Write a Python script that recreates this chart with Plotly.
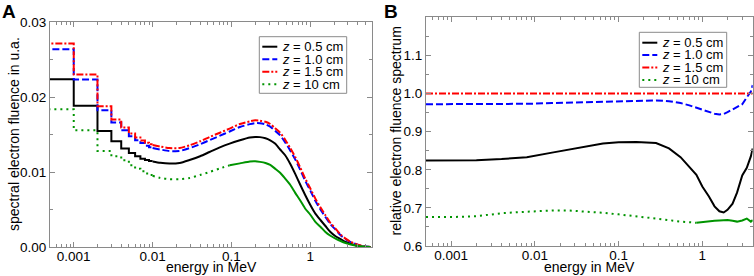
import numpy as np
import plotly.graph_objects as go

# ---------------- Panel A: spectral electron fluence (u.a.) ----------------
# low-energy histogram bins (MeV) and bin values
bin_edges_A = [0.0004, 0.001, 0.002, 0.003, 0.004, 0.005, 0.006, 0.007, 0.008, 0.009, 0.010]
steps_z05 = [0.02236, 0.01885, 0.01547, 0.01409, 0.01312, 0.01253, 0.01209, 0.01178, 0.01160, 0.01148]
steps_z10 = [0.02636, 0.02232, 0.01823, 0.01659, 0.01556, 0.01476, 0.01423, 0.01387, 0.01350, 0.01330]
steps_z15 = [0.02712, 0.02299, 0.01876, 0.01699, 0.01592, 0.01512, 0.01459, 0.01420, 0.01390, 0.01370]
steps_z100 = [0.01836, 0.01556, 0.01280, 0.01209, 0.01156, 0.01089, 0.01045, 0.01010, 0.00980, 0.00960]

# smooth part of the spectra
energy_A = [0.010, 0.0125, 0.0163, 0.022, 0.0294, 0.04, 0.0528, 0.07, 0.0948, 0.128,
            0.171, 0.2, 0.23, 0.27, 0.31, 0.357, 0.414, 0.48, 0.555, 0.643,
            0.745, 0.863, 1.0, 1.158, 1.342, 1.554, 1.8, 2.087, 2.42, 2.8,
            3.24, 3.75, 4.35, 5.0, 5.8]
fluence_z05 = [0.01140, 0.01122, 0.01112, 0.01120, 0.01160, 0.01210, 0.01267, 0.01325, 0.01379, 0.01423,
               0.01459, 0.01467, 0.01465, 0.01450, 0.01423, 0.01379, 0.01300, 0.01223, 0.01110, 0.00975,
               0.00830, 0.00690, 0.00560, 0.00445, 0.00360, 0.00280, 0.00200, 0.00143, 0.00105, 0.00067,
               0.00045, 0.00021, 0.00010, 0.00004, 0.0]
fluence_z10 = [0.0132, 0.0130, 0.0128, 0.0128, 0.01318, 0.0137, 0.01425, 0.0148, 0.0154, 0.0160,
               0.01638, 0.01652, 0.0165, 0.01635, 0.01605, 0.0155, 0.0149, 0.01395, 0.01288, 0.01168,
               0.01028, 0.0088, 0.00752, 0.00615, 0.00502, 0.0040, 0.00303, 0.00232, 0.00157, 0.00106,
               0.00066, 0.0004, 0.00019, 0.00008, 0.0]
fluence_z15 = [0.0136, 0.0134, 0.0132, 0.0132, 0.01356, 0.0141, 0.01467, 0.0152, 0.01579, 0.0164,
               0.01675, 0.01689, 0.01685, 0.0167, 0.0164, 0.01585, 0.01525, 0.0143, 0.0132, 0.0120,
               0.0106, 0.00912, 0.0078, 0.00645, 0.0053, 0.00423, 0.0032, 0.00245, 0.00165, 0.00112,
               0.0007, 0.00042, 0.0002, 0.00008, 0.0]
fluence_z100 = [0.0095, 0.0092, 0.00905, 0.00905, 0.0092, 0.0096, 0.0100, 0.01045, 0.01089, 0.01115,
                0.0114, 0.01143, 0.01135, 0.0112, 0.01095, 0.01045, 0.0099, 0.00912, 0.0083, 0.00722,
                0.0062, 0.0051, 0.0043, 0.00335, 0.0027, 0.0020, 0.0015, 0.00112, 0.0008, 0.00053,
                0.00033, 0.0002, 0.0001, 0.00004, 0.0]

# ---------------- Panel B: relative electron fluence spectrum ----------------
energy_B = [0.0005, 0.001, 0.002, 0.004, 0.008, 0.016, 0.026, 0.04, 0.065, 0.1,
            0.163, 0.28, 0.4, 0.55, 0.7, 0.85, 1.0, 1.2, 1.4, 1.6,
            1.8, 2.0, 2.3, 2.6, 3.0, 3.4, 3.8, 4.0]
ratio_z05 = [0.824, 0.824, 0.825, 0.828, 0.833, 0.845, 0.853, 0.861, 0.869, 0.872,
             0.873, 0.870, 0.856, 0.833, 0.808, 0.787, 0.756, 0.730, 0.704, 0.691,
             0.688, 0.695, 0.711, 0.740, 0.785, 0.805, 0.835, 0.856]
ratio_z10 = [0.972, 0.972, 0.972, 0.972, 0.973, 0.975, 0.976, 0.977, 0.978, 0.979,
             0.981, 0.982, 0.980, 0.975, 0.969, 0.963, 0.958, 0.952, 0.947, 0.945,
             0.946, 0.951, 0.958, 0.966, 0.972, 0.990, 1.005, 1.022]
energy_B_ref = [0.0005, 4.0]
ratio_z15 = [1.0, 1.0]
ratio_z100 = [0.676, 0.676, 0.678, 0.686, 0.690, 0.693, 0.693, 0.691, 0.687, 0.683,
              0.678, 0.673, 0.668, 0.664, 0.662, 0.661, 0.662, 0.665, 0.666, 0.667,
              0.668, 0.668, 0.666, 0.664, 0.667, 0.672, 0.664, 0.668]

legend_labels = ["<i>z</i> = 0.5 cm", "<i>z</i> = 1.0 cm", "<i>z</i> = 1.5 cm", "<i>z</i> = 10 cm"]
x_tickvals = [0.001, 0.01, 0.1, 1]
x_ticktext = ["0.001", "0.01", "0.1", "1"]

# ---------------- styling ----------------
W, H = 754, 276
FONT = "Liberation Sans, Arial, Helvetica, sans-serif"
AXC = "#8a8a8a"
styles = [
    dict(color="#000000", dash="solid"),
    dict(color="#0000ff", dash="7px,3px"),
    dict(color="#ff0000", dash="7px,2px,2px,2px"),
    dict(color="#009400", dash="2px,4px"),
]
LW = 2
# the dense (noisy) 10 cm curve looks solid above these energies
GREEN_SOLID_FROM_A = 0.0948
GREEN_SOLID_FROM_B = 0.85


def step_path(edges, vals):
    xs, ys = [], []
    for i, v in enumerate(vals):
        xs += [edges[i], edges[i + 1]]
        ys += [v, v]
    return xs, ys


def split_at(xs, ys, xsplit):
    lo = [(x, y) for x, y in zip(xs, ys) if x <= xsplit]
    hi = [(x, y) for x, y in zip(xs, ys) if x >= xsplit]
    return list(zip(*lo)), list(zip(*hi))


fig = go.Figure()
steps = [steps_z05, steps_z10, steps_z15, steps_z100]
smooth = [fluence_z05, fluence_z10, fluence_z15, fluence_z100]
for k, (st, sm, sty, name) in enumerate(zip(steps, smooth, styles, legend_labels)):
    sx, sy = step_path(bin_edges_A, st)
    fig.add_trace(go.Scatter(x=sx, y=sy, mode="lines", line=dict(width=LW, **sty),
                             showlegend=False, name=name, xaxis="x", yaxis="y"))
    if k == 3:
        (lx, ly), (hx, hy) = split_at(energy_A, sm, GREEN_SOLID_FROM_A)
        fig.add_trace(go.Scatter(x=lx, y=ly, mode="lines",
                                 line=dict(width=LW, shape="spline", smoothing=0.6, **sty),
                                 showlegend=False, name=name, xaxis="x", yaxis="y"))
        fig.add_trace(go.Scatter(x=hx, y=hy, mode="lines",
                                 line=dict(width=LW, shape="spline", smoothing=0.6, color=sty["color"]),
                                 showlegend=False, name=name, xaxis="x", yaxis="y"))
    else:
        fig.add_trace(go.Scatter(x=energy_A, y=sm, mode="lines",
                                 line=dict(width=LW, shape="spline", smoothing=0.6, **sty),
                                 showlegend=False, name=name, xaxis="x", yaxis="y"))

ratios = [(energy_B, ratio_z05), (energy_B, ratio_z10), (energy_B_ref, ratio_z15), (energy_B, ratio_z100)]
for k, ((ex, ry), sty, name) in enumerate(zip(ratios, styles, legend_labels)):
    if k == 3:
        (lx, ly), (hx, hy) = split_at(ex, ry, GREEN_SOLID_FROM_B)
        fig.add_trace(go.Scatter(x=lx, y=ly, mode="lines", line=dict(width=LW, **sty),
                                 showlegend=False, name=name, xaxis="x2", yaxis="y2"))
        fig.add_trace(go.Scatter(x=hx, y=hy, mode="lines", line=dict(width=LW, color=sty["color"]),
                                 showlegend=False, name=name, xaxis="x2", yaxis="y2"))
    else:
        fig.add_trace(go.Scatter(x=ex, y=ry, mode="lines", line=dict(width=LW, **sty),
                                 showlegend=False, name=name, xaxis="x2", yaxis="y2"))


def px_x(p):
    return p / W


def px_y(p):
    return 1 - p / H


def minor_log(lo_exp, hi_exp):
    vals = []
    for e in range(lo_exp, hi_exp + 1):
        for m in range(2, 10):
            vals.append(m * 10.0 ** e)
    return vals


common_axis = dict(showline=True, linecolor=AXC, linewidth=1, mirror="ticks",
                   ticks="inside", ticklen=5, tickwidth=1, tickcolor=AXC,
                   showgrid=False, zeroline=False, automargin=False,
                   tickfont=dict(family=FONT, size=13.5, color="#000"))

xa = dict(common_axis, type="log", tickvals=x_tickvals, ticktext=x_ticktext, ticklabelstandoff=-3,
          minor=dict(tickvals=minor_log(-4, 0), ticks="inside", ticklen=3, tickcolor=AXC, showgrid=False))

fig.update_layout(
    width=W, height=H, autosize=False,
    margin=dict(l=0, r=0, t=0, b=0, pad=0),
    paper_bgcolor="white", plot_bgcolor="white",
    showlegend=False,
    xaxis=dict(xa, domain=[px_x(50), px_x(371.7)], range=[np.log10(0.0005), np.log10(6)], anchor="y"),
    yaxis=dict(common_axis, domain=[px_y(247), px_y(22)], range=[0, 0.03],
               tickvals=[0, 0.01, 0.02, 0.03], tickformat=".2f", anchor="x",
               minor=dict(dtick=0.005, ticks="inside", ticklen=3, tickcolor=AXC, showgrid=False)),
    xaxis2=dict(xa, domain=[px_x(426), px_x(752.7)], range=[np.log10(0.0005), np.log10(4)], anchor="y2"),
    yaxis2=dict(common_axis, domain=[px_y(246), px_y(17.3)], range=[0.6, 1.2],
                tickvals=[0.6, 0.7, 0.8, 0.9, 1.0, 1.1], tickformat=".1f", anchor="x2",
                minor=dict(dtick=0.05, ticks="inside", ticklen=3, tickcolor=AXC, showgrid=False)),
)

TITLE_FONT = dict(family=FONT, size=14, color="#000")
# axis titles
fig.add_annotation(text="energy in MeV", x=px_x(211), y=px_y(276), xref="paper", yref="paper",
                   xanchor="center", yanchor="bottom", showarrow=False, font=TITLE_FONT, borderpad=0)
fig.add_annotation(text="energy in MeV", x=px_x(589.5), y=px_y(276), xref="paper", yref="paper",
                   xanchor="center", yanchor="bottom", showarrow=False, font=TITLE_FONT, borderpad=0)
fig.add_annotation(text="spectral electron fluence in u.a.", x=px_x(13.5), y=px_y(134.5),
                   xref="paper", yref="paper", xanchor="center", yanchor="middle",
                   textangle=-90, showarrow=False, font=TITLE_FONT, borderpad=0)
fig.add_annotation(text="relative electron fluence spectrum", x=px_x(395), y=px_y(131.5),
                   xref="paper", yref="paper", xanchor="center", yanchor="middle",
                   textangle=-90, showarrow=False, font=TITLE_FONT, borderpad=0)

# panel letters
fig.add_annotation(text="<b>A</b>", x=px_x(1), y=px_y(0), xref="paper", yref="paper",
                   xanchor="left", yanchor="top", showarrow=False, borderpad=0,
                   font=dict(family=FONT, size=19, color="#000"))
fig.add_annotation(text="<b>B</b>", x=px_x(383), y=px_y(0), xref="paper", yref="paper",
                   xanchor="left", yanchor="top", showarrow=False, borderpad=0,
                   font=dict(family=FONT, size=19, color="#000"))

# manual legends (box, sample lines, one multi-line label block)
legend_boxes = [(259.3, 36.7, 346.7, 93.3, 46.7, 12.5), (639.3, 32.3, 726.7, 87.3, 42.7, 12.4)]
legend_text = "<br>".join("<span style='font-size:13px'>%s</span>" % lab for lab in legend_labels)
for (bx0, by0, bx1, by1, row0, drow) in legend_boxes:
    fig.add_shape(type="rect", xref="paper", yref="paper",
                  x0=px_x(bx0), x1=px_x(bx1), y0=px_y(by1), y1=px_y(by0),
                  line=dict(color=AXC, width=1), fillcolor="white", layer="above")
    for i, sty in enumerate(styles):
        yy = row0 + i * drow
        fig.add_shape(type="line", xref="paper", yref="paper",
                      x0=px_x(bx0 + 3), x1=px_x(bx0 + 18), y0=px_y(yy), y1=px_y(yy),
                      line=dict(color=sty["color"], dash=sty["dash"], width=LW), layer="above")
    fig.add_annotation(text=legend_text, x=px_x(bx0 + 21.5), y=px_y(row0 + 1.5 * drow),
                       xref="paper", yref="paper", xanchor="left", yanchor="middle",
                       align="left", showarrow=False, borderpad=0,
                       font=dict(family=FONT, size=drow / 1.3, color="#000"))

fig.write_html("out.html", config={"displayModeBar": False},
               post_script="document.body.style.margin='0px';")
